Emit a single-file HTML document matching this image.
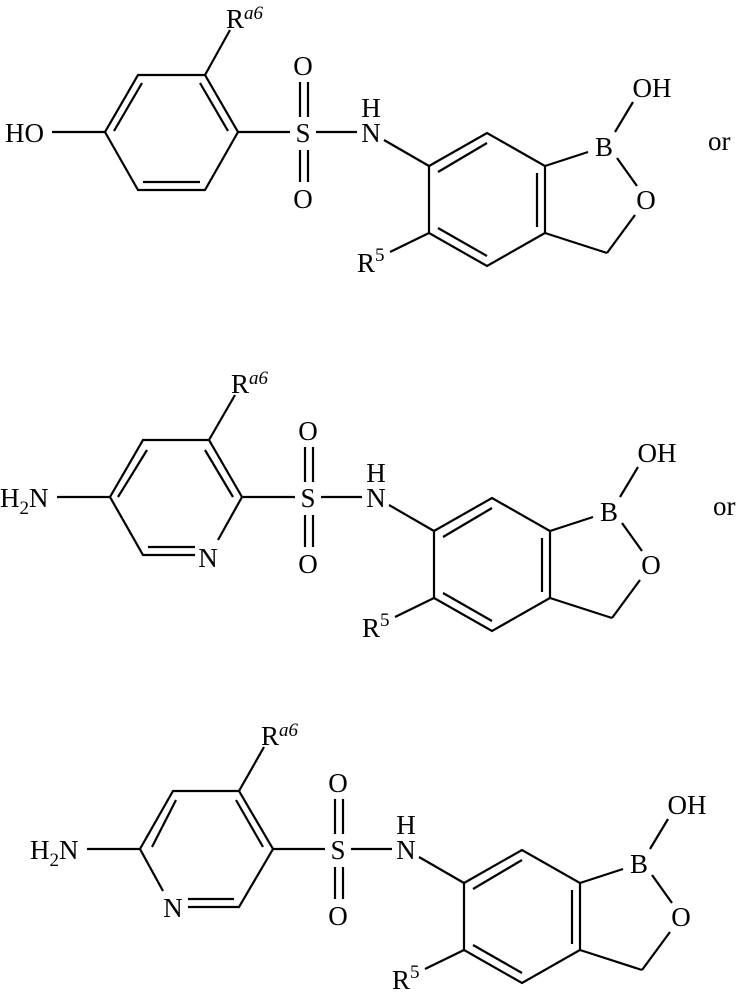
<!DOCTYPE html>
<html><head><meta charset="utf-8"><style>
html,body{margin:0;padding:0;background:#fff}
svg{display:block}
text{font-family:"Liberation Serif",serif;font-size:27px;fill:#000}
.s{font-size:19px}
</style></head><body>
<svg width="738" height="993" viewBox="0 0 738 993" xmlns="http://www.w3.org/2000/svg">
<defs>
<g id="right" stroke="#000" stroke-width="2.2" fill="none">
<line x1="238" y1="132" x2="290" y2="132"/>
<line x1="316" y1="132" x2="357" y2="132"/>
<line x1="300" y1="82" x2="300" y2="117"/><line x1="308" y1="82" x2="308" y2="117"/>
<line x1="300" y1="150" x2="300" y2="182"/><line x1="308" y1="150" x2="308" y2="182"/>
<line x1="384" y1="140" x2="429" y2="166"/>
<polygon points="429,166 487,133 545,166 545,233 487,266 429,233"/>
<line x1="438" y1="172" x2="487" y2="143"/>
<line x1="537" y1="173" x2="537" y2="227"/>
<line x1="438" y1="228" x2="487" y2="256"/>
<line x1="545" y1="166" x2="588" y2="152"/>
<line x1="615" y1="132" x2="633" y2="102"/>
<line x1="617" y1="158" x2="637" y2="186"/>
<line x1="635" y1="215" x2="607" y2="253"/>
<line x1="545" y1="233" x2="607" y2="253"/>
<line x1="390" y1="252" x2="429" y2="233"/>
</g>
<g id="rtext">
<text x="303" y="142" text-anchor="middle">S</text>
<text x="303" y="75" text-anchor="middle">O</text>
<text x="303" y="208" text-anchor="middle">O</text>
<text x="371" y="142" text-anchor="middle">N</text>
<text x="371" y="117" text-anchor="middle">H</text>
<text x="604" y="156" text-anchor="middle">B</text>
<text x="652" y="97" text-anchor="middle">OH</text>
<text x="646" y="209" text-anchor="middle">O</text>
<text x="357" y="272">R<tspan class="s" dy="-11">5</tspan></text>
</g>
</defs>

<!-- Structure 1 -->
<g>
<g stroke="#000" stroke-width="2.2" fill="none">
<polygon points="138,75 205,75 238,132 205,190 138,190 105,132"/>
<line x1="142" y1="83" x2="114" y2="131"/>
<line x1="200" y1="83" x2="228" y2="131"/>
<line x1="143" y1="182" x2="200" y2="182"/>
<line x1="52" y1="132" x2="105" y2="132"/>
<line x1="205" y1="75" x2="230" y2="30"/>
</g>
<text x="5" y="142">HO</text>
<text x="226" y="28">R<tspan class="s" font-style="italic" dy="-9">a6</tspan></text>
<use href="#right"/><use href="#rtext"/>
<text x="708" y="150">or</text>
</g>

<!-- Structure 2 -->
<g transform="translate(5,365)">
<g stroke="#000" stroke-width="2.2" fill="none">
<polyline points="213,175 237,132 204,75 138,75 105,132 138,190 190,190"/>
<line x1="142" y1="85" x2="113" y2="132"/>
<line x1="200" y1="85" x2="228" y2="132"/>
<line x1="143" y1="182" x2="190" y2="182"/>
<line x1="52" y1="132" x2="105" y2="132"/>
<line x1="204" y1="75" x2="230" y2="30"/>
</g>
<text x="203" y="202" text-anchor="middle">N</text>
<text x="-5" y="142">H<tspan class="s" dy="7">2</tspan><tspan dy="-7">N</tspan></text>
<text x="226" y="28">R<tspan class="s" font-style="italic" dy="-9">a6</tspan></text>
<use href="#right"/><use href="#rtext"/>
<text x="708" y="150">or</text>
</g>

<!-- Structure 3 -->
<g transform="translate(35,717)">
<g stroke="#000" stroke-width="2.2" fill="none">
<polyline points="128,174 105,132 138,74 204,74 238,132 204,190 153,190"/>
<line x1="141" y1="83" x2="117" y2="130"/>
<line x1="201" y1="83" x2="228" y2="130"/>
<line x1="153" y1="182" x2="199" y2="182"/>
<line x1="52" y1="132" x2="105" y2="132"/>
<line x1="204" y1="74" x2="229" y2="30"/>
</g>
<text x="138" y="200" text-anchor="middle">N</text>
<text x="-5" y="142">H<tspan class="s" dy="7">2</tspan><tspan dy="-7">N</tspan></text>
<text x="226" y="28">R<tspan class="s" font-style="italic" dy="-9">a6</tspan></text>
<use href="#right"/><use href="#rtext"/>
</g>
</svg>
</body></html>
